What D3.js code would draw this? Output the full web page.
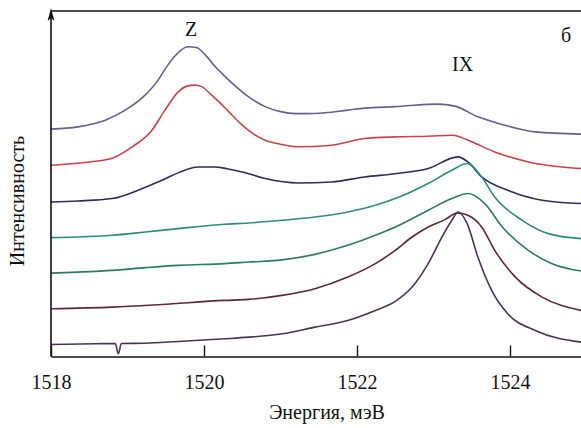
<!DOCTYPE html>
<html>
<head>
<meta charset="utf-8">
<script src="https://cdn.jsdelivr.net/npm/d3@7/dist/d3.min.js"></script>
<style>
  html, body { margin: 0; padding: 0; background: #fff; }
  svg { display: block; }
  text { font-family: "Liberation Serif", "Times New Roman", serif; fill: #111; }
</style>
</head>
<body>
<svg id="chart" width="581" height="428"></svg>
<script>
// Energy ticks (meV)
const xTicks = [1518, 1520, 1522, 1524];
const xDomain = [1518, 1525];
// Intensity in arbitrary units (curves stacked with offsets)
const yDomain = [0, 345];

// Spectra: [energy meV, intensity a.u.]
const spectrum1 = [[1518.00,227],[1518.35,229.3],[1518.71,236],[1518.97,246],[1519.23,261],[1519.40,276],[1519.50,288],[1519.62,300],[1519.70,306],[1519.79,309.3],[1519.90,308.5],[1520.02,301],[1520.14,290],[1520.27,280],[1520.41,270],[1520.58,259.5],[1520.80,249.5],[1521.00,244.5],[1521.20,242.5],[1521.45,242.7],[1521.88,246],[1522.10,248],[1522.50,249.5],[1523.06,252],[1523.28,250],[1523.58,239.3],[1523.93,231],[1524.33,224.3],[1524.93,222]];
const spectrum2 = [[1518.00,191],[1518.44,193.7],[1518.80,198],[1519.06,209.3],[1519.32,226],[1519.49,246],[1519.66,264],[1519.78,270],[1519.88,271],[1519.97,269.5],[1520.10,261],[1520.20,254],[1520.31,245.5],[1520.50,231],[1520.65,222],[1520.80,216],[1521.00,212],[1521.23,209.5],[1521.67,211],[1522.10,217.7],[1522.50,219.3],[1522.93,220],[1523.25,221],[1523.45,216],[1523.80,204.3],[1524.24,194.3],[1524.93,187.7]];
const spectrum3 = [[1518.00,154.3],[1518.35,155.3],[1518.80,157.7],[1519.14,166],[1519.45,176],[1519.75,186],[1519.92,189.3],[1520.14,189.3],[1520.30,187.5],[1520.50,184.3],[1520.80,177.7],[1521.23,173.3],[1521.67,174.3],[1522.10,179.3],[1522.50,182.5],[1522.93,187.7],[1523.32,199.3],[1523.45,194.3],[1523.63,179.3],[1523.97,166],[1524.42,156],[1524.93,152.7]];
const spectrum4 = [[1518.00,118.7],[1518.35,119.3],[1518.80,121],[1519.23,124.3],[1519.66,127.7],[1520.27,132],[1520.58,133.3],[1521.02,136],[1521.45,139.3],[1521.88,144.3],[1522.24,151],[1522.50,157.7],[1522.93,172.7],[1523.24,186],[1523.44,192.7],[1523.63,179.3],[1523.80,159.3],[1524.16,136],[1524.50,122.7],[1524.93,117.7]];
const spectrum5 = [[1518.00,83.3],[1518.35,84.3],[1518.80,86],[1519.23,88.7],[1519.66,91],[1520.27,92.7],[1520.58,94.3],[1521.02,96.5],[1521.45,102],[1521.88,111],[1522.24,121],[1522.50,129.3],[1522.93,146],[1523.24,157.7],[1523.45,162.7],[1523.67,152.7],[1523.90,129.3],[1524.24,106],[1524.55,92.7],[1524.93,85.3]];
const spectrum6 = [[1518.00,47.7],[1518.80,49.3],[1519.45,52],[1520.27,56],[1520.58,57],[1521.02,61],[1521.45,67.7],[1521.88,79.3],[1522.24,92.7],[1522.50,106],[1522.72,119.3],[1522.93,129.3],[1523.15,136.7],[1523.31,143.3],[1523.45,141],[1523.63,129.3],[1523.80,106],[1524.07,79.3],[1524.42,59.3],[1524.93,46]];
const spectrum7 = [[1518.00,12],[1518.58,12.7],[1518.84,13],[1518.88,2.7],[1518.92,13],[1519.23,13.3],[1519.66,15],[1520.27,17.7],[1520.58,19.3],[1521.02,22.7],[1521.45,29.3],[1521.88,36],[1522.24,46],[1522.50,55],[1522.72,69.3],[1522.93,92.7],[1523.11,119.3],[1523.24,136],[1523.32,144.3],[1523.44,132.7],[1523.58,99.3],[1523.76,66],[1523.97,42.7],[1524.33,26],[1524.93,14.3]];

const spectra = [spectrum1, spectrum2, spectrum3, spectrum4, spectrum5, spectrum6, spectrum7];
const colors = ["#626290", "#c8424c", "#2d2d5a", "#2c8c7e", "#2c7b62", "#5a2836", "#4b3354"];

// Peak annotations
const peakLabels = [{text: "Z", e: 1519.83, row: 0}, {text: "IX", e: 1523.38, row: 1}];
const panelLabel = "б";
const xTitle = "Энергия, мэВ";
const yTitle = "Интенсивность";

const svg = d3.select("#chart");
const mLeft = 51, mTop = 11, mBottom = 356.5, mRight = 586.5;

const x = d3.scaleLinear().domain(xDomain).range([mLeft, mRight]);
const y = d3.scaleLinear().domain(yDomain).range([mBottom, mTop]);

// curves
const line = d3.line()
  .x(d => x(d[0]))
  .y(d => y(d[1]))
  .curve(d3.curveMonotoneX);

svg.append("g").selectAll("path")
  .data(spectra)
  .join("path")
  .attr("d", line)
  .attr("fill", "none")
  .attr("stroke", (d, i) => colors[i])
  .attr("stroke-width", 1.6)
  .attr("stroke-linejoin", "round");

// bottom axis with inward ticks
const xAxis = d3.axisBottom(x).tickValues(xTicks).tickSizeInner(-11).tickSizeOuter(0).tickPadding(18)
  .tickFormat(d3.format("d"));
const gx = svg.append("g").attr("transform", `translate(0,${mBottom})`).call(xAxis);
gx.select(".domain").attr("stroke", "#111").attr("stroke-width", 1.6);
gx.selectAll(".tick line").attr("stroke", "#111").attr("stroke-width", 1.4);
gx.selectAll(".tick text").attr("font-size", 20).attr("font-family", "Liberation Serif").attr("fill", "#111");

// top border
svg.append("line").attr("x1", mLeft).attr("x2", 581).attr("y1", mTop).attr("y2", mTop)
  .attr("stroke", "#111").attr("stroke-width", 1.6);

// left axis with arrow
svg.append("line").attr("x1", mLeft).attr("x2", mLeft).attr("y1", mBottom).attr("y2", mTop + 2)
  .attr("stroke", "#111").attr("stroke-width", 1.6);
svg.append("path")
  .attr("d", `M${mLeft},${mTop - 3} L${mLeft - 3.4},${mTop + 10} L${mLeft},${mTop + 7} L${mLeft + 3.4},${mTop + 10} Z`)
  .attr("fill", "#111");

// labels
svg.selectAll(".peak").data(peakLabels).join("text")
  .attr("class", "peak")
  .attr("x", d => x(d.e))
  .attr("y", d => d.row === 0 ? 36 : 71)
  .attr("text-anchor", "middle").attr("font-size", 20)
  .text(d => d.text);

svg.append("text").attr("x", 566).attr("y", 42).attr("text-anchor", "middle")
  .attr("font-size", 20).text(panelLabel);

svg.append("text").attr("x", 327).attr("y", 419).attr("text-anchor", "middle")
  .attr("font-size", 20).text(xTitle);

svg.append("text").attr("transform", "translate(24,201) rotate(-90)")
  .attr("text-anchor", "middle").attr("font-size", 20).text(yTitle);
</script>
</body>
</html>
